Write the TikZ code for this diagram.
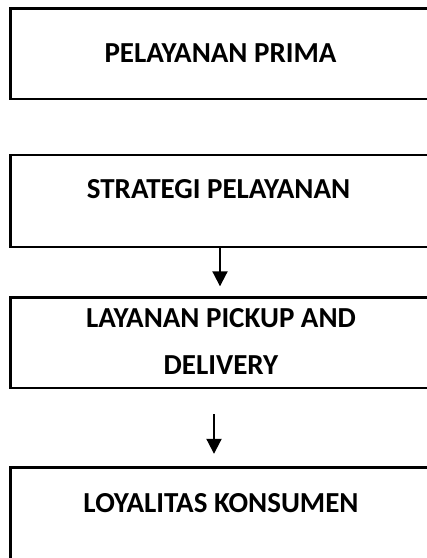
\documentclass[tikz,border=0pt]{standalone}
\usepackage{fontspec}
\setmainfont{Carlito}
\usetikzlibrary{arrows.meta}
\tikzset{
  box/.style={draw=black, line width=2.4pt, minimum width=419pt, inner sep=0pt},
  lbl/.style={font=\fontsize{29}{47}\selectfont\bfseries, anchor=base, inner sep=0pt, align=center},
  arr/.style={line width=2pt, -{Triangle[width=15pt,length=15pt]}}
}
\begin{document}
\begin{tikzpicture}[x=1pt,y=-1pt]
\useasboundingbox (0,0) rectangle (427,558);
\clip (0,0) rectangle (427,558);
\node[box, minimum height=90.5pt] (b1) at (220,53.75) {};
\node[box, minimum height=92pt] (b2) at (220,201) {};
\node[box, minimum height=90.5pt] (b3) at (220,342.75) {};
\node[box, minimum height=112.5pt] (b4) at (220,523.75) {};
\node[lbl] (t1) at (220.5,62) {PELAYANAN PRIMA};
\node[lbl] (t2) at (218.5,198) {STRATEGI PELAYANAN};
\node[lbl] (t3a) at (221,327) {LAYANAN PICKUP AND};
\node[lbl] (t3b) at (221,374) {DELIVERY};
\node[lbl] (t4) at (221,512) {LOYALITAS KONSUMEN};
\draw[arr, shorten >=10pt] (b2.south) -- (b3.north);
\draw[arr, shorten <=25pt, shorten >=12.5pt] ([xshift=-6pt]b3.south) -- ([xshift=-6pt]b4.north);
\end{tikzpicture}
\end{document}
